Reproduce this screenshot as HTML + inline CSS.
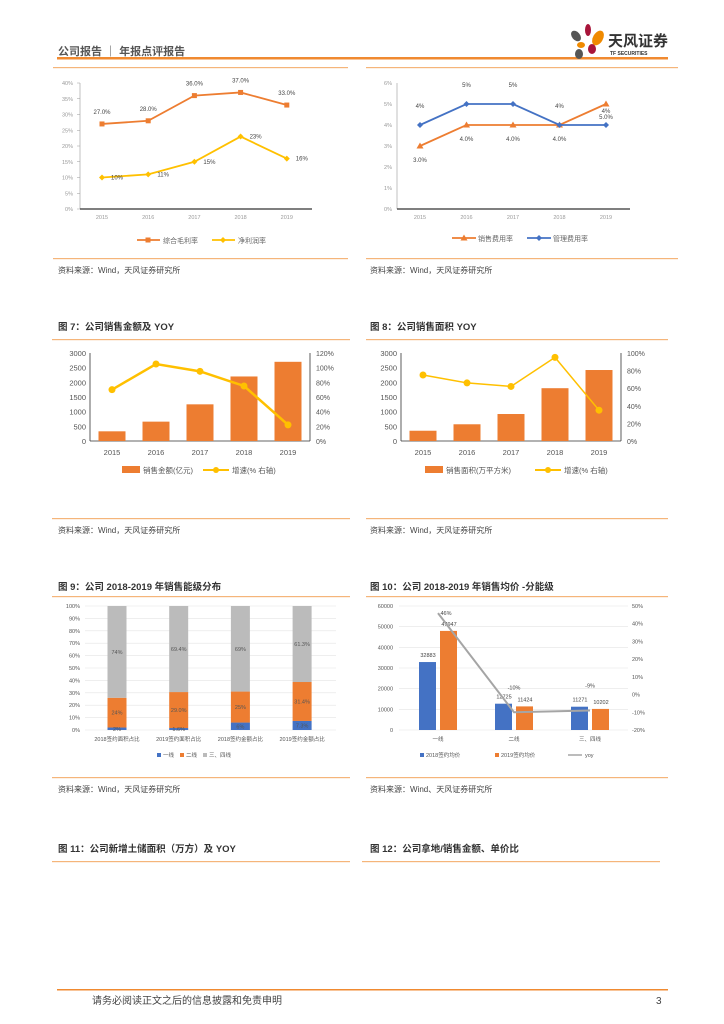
<!DOCTYPE html>
<html><head><meta charset="utf-8">
<style>
html,body{margin:0;padding:0;background:#fff;}
svg{display:block;font-family:"Liberation Sans","Noto Sans CJK SC",sans-serif;}
</style></head>
<body>
<svg id="page" width="724" height="1024" viewBox="0 0 724 1024">
<g>
<text x="58" y="55" font-size="11" font-weight="bold" fill="#555">公司报告 ｜ 年报点评报告</text>
<rect x="57" y="57" width="611" height="2.5" fill="#F08A30"/>
<g>
<ellipse cx="576" cy="36" rx="4" ry="6" fill="#555" transform="rotate(-40 576 36)"/>
<ellipse cx="588" cy="30" rx="3" ry="6" fill="#A8153A"/>
<ellipse cx="598" cy="38" rx="5" ry="8" fill="#F08A00" transform="rotate(30 598 38)"/>
<ellipse cx="581" cy="45" rx="4" ry="3" fill="#F08A00"/>
<ellipse cx="592" cy="49" rx="4" ry="5" fill="#A8153A"/>
<ellipse cx="579" cy="54" rx="4" ry="5" fill="#555"/>
<text x="608" y="46" font-size="15" font-weight="bold" fill="#333">天风证券</text>
<text x="610" y="55" font-size="5" font-weight="bold" fill="#333">TF SECURITIES</text>
</g>
</g>
<g id="c1"></g>
<g id="c2"></g>
<g id="c7"></g>
<g id="c8"></g>
<g id="c9"></g>
<g id="c10"></g>
<g id="static"></g>
<g>
<rect x="57" y="989" width="611" height="1.5" fill="#F08A30"/>
<text x="92" y="1004" font-size="10" fill="#444">请务必阅读正文之后的信息披露和免责申明</text>
<text x="656" y="1004" font-size="10" fill="#444">3</text>
</g>
</svg>
<script>
const years=["2015","2016","2017","2018","2019"];
const grossMargin=[27,28,36,37,33];
const netMargin=[10,11,15,23,16];
const salesRate=[3,4,4,4,5];
const mgmtRate=[4,5,5,4,4];
const salesAmt=[330,660,1250,2200,2700];
const salesAmtYoy=[70,105,95,75,22];
const salesArea=[350,570,920,1800,2420];
const salesAreaYoy=[75,66,62,95,35];
const tierCats=["2018签约面积占比","2019签约面积占比","2018签约金额占比","2019签约金额占比"];
const tier1Share=[2,1.6,6,7.3];
const tier2Share=[24,29,25,31.4];
const tier34Share=[74,69.4,69,61.3];
const tier1Labels=["2%","1.6%","6%","7.3%"];
const tier2Labels=["24%","29.0%","25%","31.4%"];
const tier34Labels=["74%","69.4%","69%","61.3%"];
const priceCats=["一线","二线","三、四线"];
const price2018=[32883,12725,11271];
const price2019=[47947,11424,10202];
const priceYoy=[46,-10,-9];

const NS="http://www.w3.org/2000/svg";
function mk(parent,tag,attrs,text){const e=document.createElementNS(NS,tag);for(const k in attrs)e.setAttribute(k,attrs[k]);if(text!==undefined)e.textContent=text;parent.appendChild(e);return e;}
function lin(d0,d1,r0,r1){return v=>r0+(v-d0)/(d1-d0)*(r1-r0);}
const S=document.getElementById('static');

function rule(x1,x2,y,name){const r=mk(S,'rect',{x:x1,y:y,width:x2-x1,height:1.2,fill:'#F5B57A'});}
function txt(p,x,y,s,size,fill,anchor,name,weight){const t=mk(p,'text',{x:x,y:y,'font-size':size,fill:fill,'text-anchor':anchor||'start','font-weight':weight||'normal'},s);return t;}
rule(53,348,67,'section-rule');rule(366,678,67,'section-rule');
rule(53,348,258,'section-rule');rule(366,678,258,'section-rule');
txt(S,58,273,'资料来源：Wind，天风证券研究所',8,'#444','start','source-note');
txt(S,370,273,'资料来源：Wind，天风证券研究所',8,'#444','start','source-note');
txt(S,58,330,'图 7：公司销售金额及 YOY',9.5,'#333','start','figure-7-title','bold');
txt(S,370,330,'图 8：公司销售面积 YOY',9.5,'#333','start','figure-8-title','bold');
rule(52,350,339,'title-rule');rule(366,668,339,'title-rule');
rule(52,350,518,'section-rule');rule(366,668,518,'section-rule');
txt(S,58,533,'资料来源：Wind，天风证券研究所',8,'#444','start','source-note');
txt(S,370,533,'资料来源：Wind，天风证券研究所',8,'#444','start','source-note');
txt(S,58,590,'图 9：公司 2018-2019 年销售能级分布',9.5,'#333','start','figure-9-title','bold');
txt(S,370,590,'图 10：公司 2018-2019 年销售均价 -分能级',9.5,'#333','start','figure-10-title','bold');
rule(52,350,596,'title-rule');rule(366,668,596,'title-rule');
rule(52,350,777,'section-rule');rule(366,668,777,'section-rule');
txt(S,58,792,'资料来源：Wind，天风证券研究所',8,'#444','start','source-note');
txt(S,370,792,'资料来源：Wind、天风证券研究所',8,'#444','start','source-note');
txt(S,58,852,'图 11：公司新增土储面积（万方）及 YOY',9.5,'#333','start','figure-11-title','bold');
txt(S,370,852,'图 12：公司拿地/销售金额、单价比',9.5,'#333','start','figure-12-title','bold');
rule(52,350,861,'title-rule');rule(362,660,861,'title-rule');

function marker(g,type,x,y,c){
 let m;
 if(type==='sq')m=mk(g,'rect',{x:x-2.5,y:y-2.5,width:5,height:5,fill:c});
 else if(type==='di')m=mk(g,'path',{d:`M${x} ${y-3}L${x+3} ${y}L${x} ${y+3}L${x-3} ${y}Z`,fill:c});
 else m=mk(g,'path',{d:`M${x} ${y-3.5}L${x+3.5} ${y+2.5}L${x-3.5} ${y+2.5}Z`,fill:c});
 
}
function series(g,xs,vals,ys,c,w,mt,name){
 const pts=vals.map((v,i)=>xs[i]+','+ys(v)).join(' ');
 const l=mk(g,'polyline',{points:pts,fill:'none',stroke:c,'stroke-width':w});
 
 vals.forEach((v,i)=>marker(g,mt,xs[i],ys(v),c));
}

(function(){
 const g=document.getElementById('c1');
 const y=lin(0,40,209,83);const xs=years.map((_,i)=>102+i*46.2);
 for(let t=0;t<=40;t+=5){txt(g,73,y(t)+2,t+'%',5.5,'#999','end','y-tick-label');mk(g,'line',{x1:77,x2:80,y1:y(t),y2:y(t),stroke:'#999','stroke-width':0.5});}
 mk(g,'line',{x1:80,x2:80,y1:83,y2:209,stroke:'#999','stroke-width':0.6});
 const xa=mk(g,'line',{x1:80,x2:312,y1:209,y2:209,stroke:'#333','stroke-width':1.2});
 years.forEach((yr,i)=>{txt(g,xs[i],219,yr,5.5,'#999','middle','x-tick-label');});
 series(g,xs,grossMargin,y,'#ED7D31',1.8,'sq','gross-margin-line');
 series(g,xs,netMargin,y,'#FFC000',1.8,'di','net-margin-line');
 grossMargin.forEach((v,i)=>txt(g,xs[i],y(v)-10,v.toFixed(1)+'%',6,'#444','middle','gross-margin-label'));
 netMargin.forEach((v,i)=>txt(g,xs[i]+15,y(v)+2,v+'%',6,'#444','middle','net-margin-label'));
 mk(g,'line',{x1:137,x2:160,y1:240,y2:240,stroke:'#ED7D31','stroke-width':1.8});marker(g,'sq',148,240,'#ED7D31');
 txt(g,163,243,'综合毛利率',7,'#666','start','legend-gross-margin');
 mk(g,'line',{x1:212,x2:235,y1:240,y2:240,stroke:'#FFC000','stroke-width':1.8});marker(g,'di',223,240,'#FFC000');
 txt(g,238,243,'净利润率',7,'#666','start','legend-net-margin');
})();

(function(){
 const g=document.getElementById('c2');
 const y=lin(0,6,209,83);const xs=years.map((_,i)=>420+i*46.5);
 for(let t=0;t<=6;t++){txt(g,392,y(t)+2,t+'%',5.5,'#999','end','y-tick-label');}
 mk(g,'line',{x1:397,x2:397,y1:83,y2:209,stroke:'#999','stroke-width':0.6});
 const xa=mk(g,'line',{x1:397,x2:630,y1:209,y2:209,stroke:'#333','stroke-width':1.2});
 years.forEach((yr,i)=>{txt(g,xs[i],219,yr,5.5,'#999','middle','x-tick-label');});
 series(g,xs,salesRate,y,'#ED7D31',1.8,'tri','sales-expense-line');
 series(g,xs,mgmtRate,y,'#4472C4',1.8,'di','admin-expense-line');
 salesRate.forEach((v,i)=>txt(g,xs[i],y(v)+(i===4?15:16),v.toFixed(1)+'%',6,'#444','middle','sales-expense-label'));
 mgmtRate.forEach((v,i)=>txt(g,xs[i],y(v)-(i===4?12:17),v+'%',6,'#444','middle','admin-expense-label'));
 mk(g,'line',{x1:452,x2:476,y1:238,y2:238,stroke:'#ED7D31','stroke-width':1.8});marker(g,'tri',464,238,'#ED7D31');
 txt(g,478,241,'销售费用率',7,'#666','start','legend-sales-expense');
 mk(g,'line',{x1:527,x2:551,y1:238,y2:238,stroke:'#4472C4','stroke-width':1.8});marker(g,'di',539,238,'#4472C4');
 txt(g,553,241,'管理费用率',7,'#666','start','legend-admin-expense');
})();

function barLine(id,xs0,bars,yoy,rmax,rstep,barName,lineName,leg1,leg1x,leg2x,lineW){
 const g=document.getElementById(id);
 const yl=lin(0,3000,441,353),yr=lin(0,rmax,441,353);
 const xs=years.map((_,i)=>xs0+i*44);
 for(let t=0;t<=3000;t+=500){txt(g,xs0-26,yl(t)+3,String(t),7.5,'#555','end','y-left-tick-label');}
 for(let t=0;t<=rmax;t+=rstep){txt(g,xs0+204,yr(t)+3,t+'%',7,'#555','start','y-right-tick-label');}
 mk(g,'line',{x1:xs0-22,x2:xs0-22,y1:353,y2:441,stroke:'#333','stroke-width':0.8});
 mk(g,'line',{x1:xs0+198,x2:xs0+198,y1:353,y2:441,stroke:'#333','stroke-width':0.8});
 const xa=mk(g,'line',{x1:xs0-22,x2:xs0+198,y1:441,y2:441,stroke:'#333','stroke-width':0.8});
 bars.forEach((v,i)=>{const r=mk(g,'rect',{x:xs[i]-13.5,y:yl(v),width:27,height:441-yl(v),fill:'#ED7D31'});});
 years.forEach((yy,i)=>txt(g,xs[i],455,yy,7.5,'#555','middle','x-tick-label'));
 const pts=yoy.map((v,i)=>xs[i]+','+yr(v)).join(' ');
 const l=mk(g,'polyline',{points:pts,fill:'none',stroke:'#FFC000','stroke-width':lineW});
 yoy.forEach((v,i)=>{const c=mk(g,'circle',{cx:xs[i],cy:yr(v),r:3.5,fill:'#FFC000'});});
 const lb=mk(g,'rect',{x:leg1x,y:466,width:18,height:7,fill:'#ED7D31'});
 txt(g,leg1x+21,473,leg1,7.5,'#555','start','legend-bar');
 mk(g,'line',{x1:leg2x,x2:leg2x+26,y1:470,y2:470,stroke:'#FFC000','stroke-width':2});
 const lc=mk(g,'circle',{cx:leg2x+13,cy:470,r:3,fill:'#FFC000'});
 txt(g,leg2x+29,473,'增速(% 右轴)',7.5,'#555','start','legend-line');
}
barLine('c7',112,salesAmt,salesAmtYoy,120,20,'sales-amount-bar','sales-amount-yoy-line','销售金额(亿元)',122,203,2.5);
barLine('c8',423,salesArea,salesAreaYoy,100,20,'sales-area-bar','sales-area-yoy-line','销售面积(万平方米)',425,535,1.5);

(function(){
 const g=document.getElementById('c9');
 const y=lin(0,100,730,606);const xs=tierCats.map((_,i)=>117+i*61.7);
 for(let t=0;t<=100;t+=10){txt(g,80,y(t)+2,t+'%',5.5,'#555','end','y-tick-label');mk(g,'line',{x1:85,x2:336,y1:y(t),y2:y(t),stroke:'#e3e3e3','stroke-width':0.6});}
 tierCats.forEach((c,i)=>{
  const b1=tier1Share[i],b2=tier2Share[i],b3=tier34Share[i];
  let r=mk(g,'rect',{x:xs[i]-9.5,y:y(b1),width:19,height:730-y(b1),fill:'#4472C4'});
  r=mk(g,'rect',{x:xs[i]-9.5,y:y(b1+b2),width:19,height:y(b1)-y(b1+b2),fill:'#ED7D31'});
  r=mk(g,'rect',{x:xs[i]-9.5,y:y(b1+b2+b3),width:19,height:y(b1+b2)-y(b1+b2+b3),fill:'#BBBBBB'});
  txt(g,xs[i],y(b1/2)+2,tier1Labels[i],5.5,'#555','middle','tier1-label');
  txt(g,xs[i],y(b1+b2/2)+2,tier2Labels[i],5.5,'#555','middle','tier2-label');
  txt(g,xs[i],y(b1+b2+b3/2)+2,tier34Labels[i],5.5,'#555','middle','tier34-label');
  txt(g,xs[i],741,c,5.5,'#555','middle','x-tick-label');
 });
 const lg=[['一线','#4472C4',157],['二线','#ED7D31',180],['三、四线','#BBBBBB',203]];
 lg.forEach(l=>{const r=mk(g,'rect',{x:l[2],y:753,width:4,height:4,fill:l[1]});txt(g,l[2]+6,757,l[0],5.5,'#555','start','legend-entry');});
})();

(function(){
 const g=document.getElementById('c10');
 const yl=lin(0,60000,730,606),yr=lin(-20,50,730,606);
 const xs=priceCats.map((_,i)=>438+i*76);
 for(let t=0;t<=60000;t+=10000){txt(g,393,yl(t)+2,String(t),5.5,'#555','end','y-left-tick-label');mk(g,'line',{x1:399,x2:628,y1:yl(t),y2:yl(t),stroke:'#e3e3e3','stroke-width':0.6});}
 for(let t=-20;t<=50;t+=10){txt(g,632,yr(t)+2,t+'%',5.5,'#555','start','y-right-tick-label');}
 priceCats.forEach((c,i)=>{
  let r=mk(g,'rect',{x:xs[i]-19,y:yl(price2018[i]),width:17,height:730-yl(price2018[i]),fill:'#4472C4'});
  r=mk(g,'rect',{x:xs[i]+2,y:yl(price2019[i]),width:17,height:730-yl(price2019[i]),fill:'#ED7D31'});
  txt(g,xs[i]-10,yl(price2018[i])-5,String(price2018[i]),5.5,'#444','middle','price-2018-label');
  txt(g,xs[i]+11,yl(price2019[i])-5,String(price2019[i]),5.5,'#444','middle','price-2019-label');
  txt(g,xs[i],741,c,5.5,'#555','middle','x-tick-label');
  txt(g,xs[i]+(i===0?8:0),yr(priceYoy[i])-(i===0?-2:23),priceYoy[i]+'%',5.5,'#444','middle','yoy-label');
 });
 const l=mk(g,'polyline',{points:priceYoy.map((v,i)=>xs[i]+','+yr(v)).join(' '),fill:'none',stroke:'#A5A5A5','stroke-width':2});
 let r=mk(g,'rect',{x:420,y:753,width:4,height:4,fill:'#4472C4'});
 txt(g,426,757,'2018签约均价',5.5,'#555','start','legend-2018');
 r=mk(g,'rect',{x:495,y:753,width:4,height:4,fill:'#ED7D31'});
 txt(g,501,757,'2019签约均价',5.5,'#555','start','legend-2019');
 mk(g,'line',{x1:568,x2:582,y1:755,y2:755,stroke:'#A5A5A5','stroke-width':1.5});
 txt(g,585,757,'yoy',5.5,'#555','start','legend-yoy');
})();
</script>
</body></html>
